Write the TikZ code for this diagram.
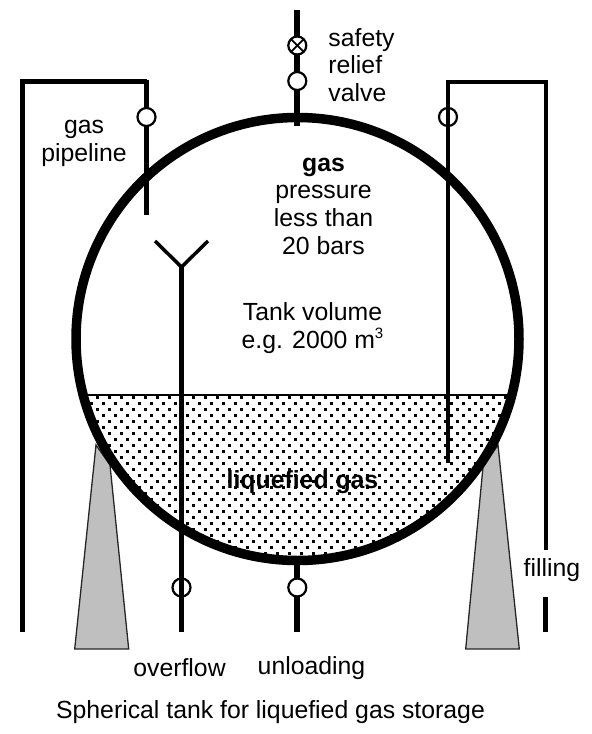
\documentclass[tikz,border=0pt]{standalone}
\usepackage{fontspec}
\setmainfont{Liberation Sans}
\tikzset{
  x=1pt,y=-1pt,
  lbl/.style={inner sep=0pt,align=center,font=\fontsize{24.8}{27.7}\selectfont,text=black},
  pipe/.style={draw=black,line width=4.5pt},
  thin pipe/.style={draw=black,line width=3.5pt},
  thick pipe/.style={draw=black,line width=6pt},
  valve/.style={circle,draw=black,line width=2.2pt,fill=white,minimum size=18pt,inner sep=0pt,outer sep=0pt},
  openvalve/.style={circle,draw=black,line width=2.2pt,minimum size=18pt,inner sep=0pt,outer sep=0pt},
  leg/.style={draw=black!85,line width=1.3pt,fill=black!25},
}
\begin{document}
\begin{tikzpicture}
\useasboundingbox (0,0) rectangle (592,734);
% supports
\draw[leg] (96,445) -- (74.7,649) -- (128.7,649) -- (110,465) -- cycle;
\draw[leg] (498,445) -- (519.3,649) -- (465.7,649) -- (483,467) -- cycle;
% liquid with dots
\begin{scope}
\clip (297.5,339) circle[radius=222];
\clip (60,395) rectangle (540,570);
\foreach \r in {0,...,28}{
  \foreach \c in {0,...,40}{
    \pgfmathsetmacro{\px}{49.3+\c*12+mod(\r,2)*6}
    \pgfmathsetmacro{\py}{397.3+\r*6}
    \fill (\px-1.4,\py-1.4) rectangle (\px+1.4,\py+1.4);
  }
}
\end{scope}
\coordinate (sl) at (85,395);
\coordinate (sr) at (510,395);
\draw[draw=black,line width=2.5pt] (sl) -- (sr);
% tank
\node[circle,draw=black,line width=9.5pt,minimum size=443pt,inner sep=0pt,outer sep=0pt] (tk) at (297.5,339) {};
% left gas pipeline
\coordinate (a1) at (22.3,632);
\coordinate (a2) at (22.3,81.5);
\coordinate (a3) at (146.5,81.5);
\coordinate (a4) at (146.5,214.5);
\draw[pipe,line join=miter] (a1) -- (a2) -- (a3);
\draw[draw=black,line width=5pt] (146.5,79.5) -- (a4);
\node[valve] (v1) at (146.5,117) {};
% safety
\coordinate (s1) at (297,10);
\coordinate (s2) at (297,126);
\draw[thick pipe] (s1) -- (s2);
\node[valve] (v2) at (297.3,45.5) {};
\draw[line width=1.8pt] (v2.north west) -- (v2.south east) (v2.north east) -- (v2.south west);
\node[valve] (v3) at (297.3,81) {};
% filling
\coordinate (f1) at (545.5,632);
\coordinate (f2) at (545.5,550);
\coordinate (f3) at (545.5,81.5);
\coordinate (f4) at (448,81.5);
\coordinate (f5) at (448,463);
\coordinate (f6) at (545.5,597);
\draw[draw=black,line width=4pt] (f2) -- (f3) -- (f4) -- (f5);
\draw[pipe] (f6) -- (f1);
\node[openvalve] (v4) at (448,117) {};
% overflow
\coordinate (o1) at (181.5,632);
\coordinate (o2) at (181.5,267);
\coordinate (o3) at (155,241);
\coordinate (o4) at (208,241);
\draw[pipe] (o1) -- (o2);
\draw[thin pipe] (o3) -- (o2) -- (o4);
\node[openvalve] (v5) at (181.5,587.5) {};
% unloading
\coordinate (u1) at (297,562);
\coordinate (u2) at (297,632);
\draw[thick pipe] (u1) -- (u2);
\node[valve] (v6) at (297.3,587.5) {};
% labels
\node[lbl,align=left] (t1) at (361.5,65) {safety\\relief\\valve};
\node[lbl] (t2) at (84,143.5) {gas\\pipeline};
\node[lbl] (t3) at (323.5,206) {\textbf{gas}\\pressure\\less than\\20 bars};
\node[lbl] (t4) at (312.5,328) {Tank volume\\e.g. 2000 m{\raisebox{10pt}{\fontsize{15}{15}\selectfont 3}}};
\node[lbl,font=\fontsize{24.8}{27.7}\selectfont\bfseries] (t5) at (302.5,482) {liquefied gas};
\node[lbl] (t6) at (179.5,668) {overflow};
\node[lbl] (t7) at (311.5,668) {unloading};
\node[lbl] (t8) at (552,570.5) {filling};
\node[lbl] (t9) at (270.5,712.5) {Spherical tank for liquefied gas storage};
\end{tikzpicture}
\end{document}
